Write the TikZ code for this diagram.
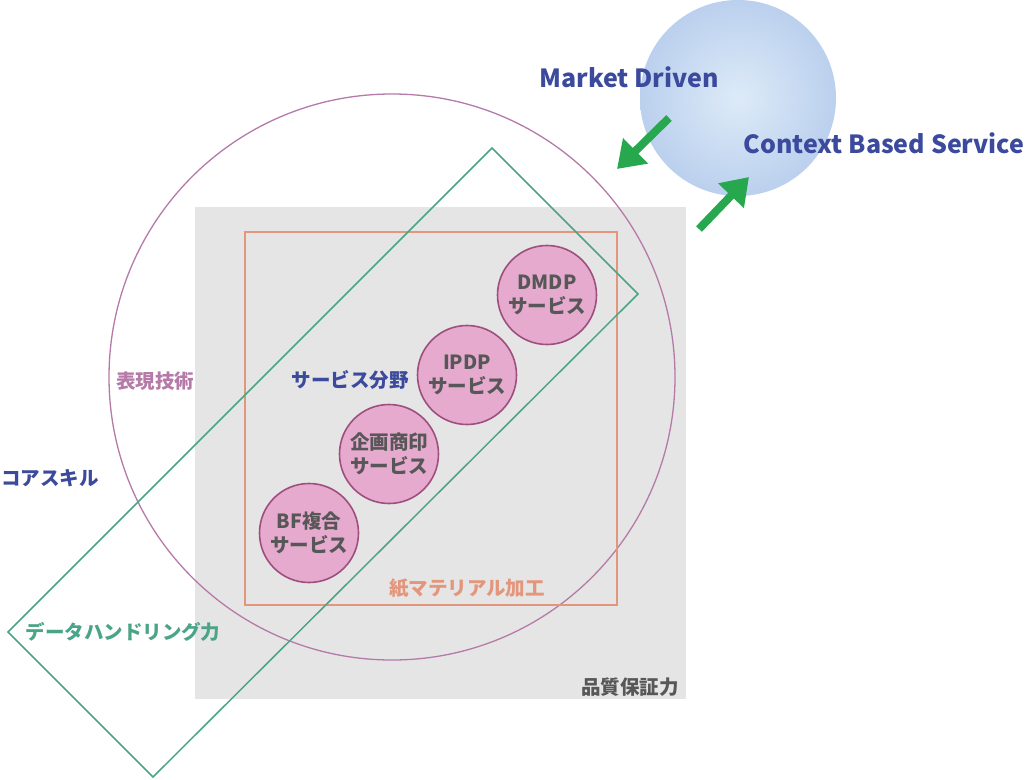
\documentclass[tikz,border=0pt]{standalone}
\usepackage{fontspec}
\setmainfont{Noto Sans CJK JP}
\usepackage{xcolor}
\usetikzlibrary{arrows.meta,positioning,calc}

\definecolor{skillblue}{HTML}{3B4A9C}
\definecolor{exprpurple}{HTML}{B57AA8}
\definecolor{datagreen}{HTML}{4CA488}
\definecolor{papersalmon}{HTML}{E3967C}
\definecolor{qualgray}{HTML}{E5E5E5}
\definecolor{svcpink}{HTML}{E6AACF}
\definecolor{svcedge}{HTML}{9E4F7E}
\definecolor{svctext}{HTML}{575757}
\definecolor{arrowgreen}{HTML}{27A84F}
\definecolor{spherein}{HTML}{DDEBF8}
\definecolor{sphereout}{HTML}{BBD0EE}

\begin{document}
\begin{tikzpicture}[
    x=1pt, y=-1pt,
    svc/.style={circle, draw=svcedge, line width=1.6pt, fill=svcpink, minimum size=99pt, inner sep=0pt, align=center, text=svctext, font=\fontsize{19.5}{23.5}\selectfont\bfseries},
    tag/.style={font=\fontsize{19.5}{23}\selectfont\bfseries, inner sep=0pt},
    bigtag/.style={font=\fontsize{25}{30}\selectfont\bfseries, text=skillblue, inner sep=0pt},
    bigarrow/.style={-{Triangle[length=26pt,width=34pt]}, line width=8pt, arrowgreen},
]
\useasboundingbox (0,0) rectangle (1025,779);

% --- Quality area ---
\fill[qualgray] (195,207) rectangle (686,699);

% --- Expression circle ---
\draw[exprpurple, line width=1.3pt] (392,377) circle (283);

% --- Paper material area ---
\draw[papersalmon, line width=1.5pt] (245,232) rectangle (617,605);

% --- Data handling band ---
\coordinate (bandtop) at (492,148);
\coordinate (bandright) at (638,294);
\coordinate (bandbottom) at (153,777);
\coordinate (bandleft) at (8,632);
\draw[datagreen, line width=1.5pt] (bandtop) -- (bandright) -- (bandbottom) -- (bandleft) -- cycle;

% --- Services ---
\node[svc] (dmdp) at (547,295) {DMDP\\サービス};
\node[svc] (ipdp) at (467,375) {IPDP\\サービス};
\node[svc] (kikaku) at (389,454) {企画商印\\サービス};
\node[svc] (bf) at (309,533) {BF複合\\サービス};

% --- Market sphere ---
\shade[inner color=spherein, outer color=sphereout] (738,98) circle (98);

\coordinate (mdtail) at (669,118);
\coordinate (mdtip) at (617,169);
\coordinate (cbtail) at (699,229);
\coordinate (cbtip) at (749,177);
\draw[bigarrow] (mdtail) -- (mdtip);
\draw[bigarrow] (cbtail) -- (cbtip);

\node[bigtag] (market) at (629,77) {Market Driven};
\node[bigtag] (context) at (884,143) {Context Based Service};

% --- Labels ---
\node[tag, text=exprpurple] (expr) at (155,381) {表現技術};
\node[tag, text=skillblue] (field) at (350,380) {サービス分野};
\node[tag, text=skillblue] (core) at (50,478) {コアスキル};
\node[tag, text=datagreen] (data) at (123,632) {データハンドリング力};
\node[tag, text=papersalmon] (paper) at (467,588) {紙マテリアル加工};
\node[tag, text=svctext] (quality) at (630,687) {品質保証力};

\end{tikzpicture}
\end{document}
